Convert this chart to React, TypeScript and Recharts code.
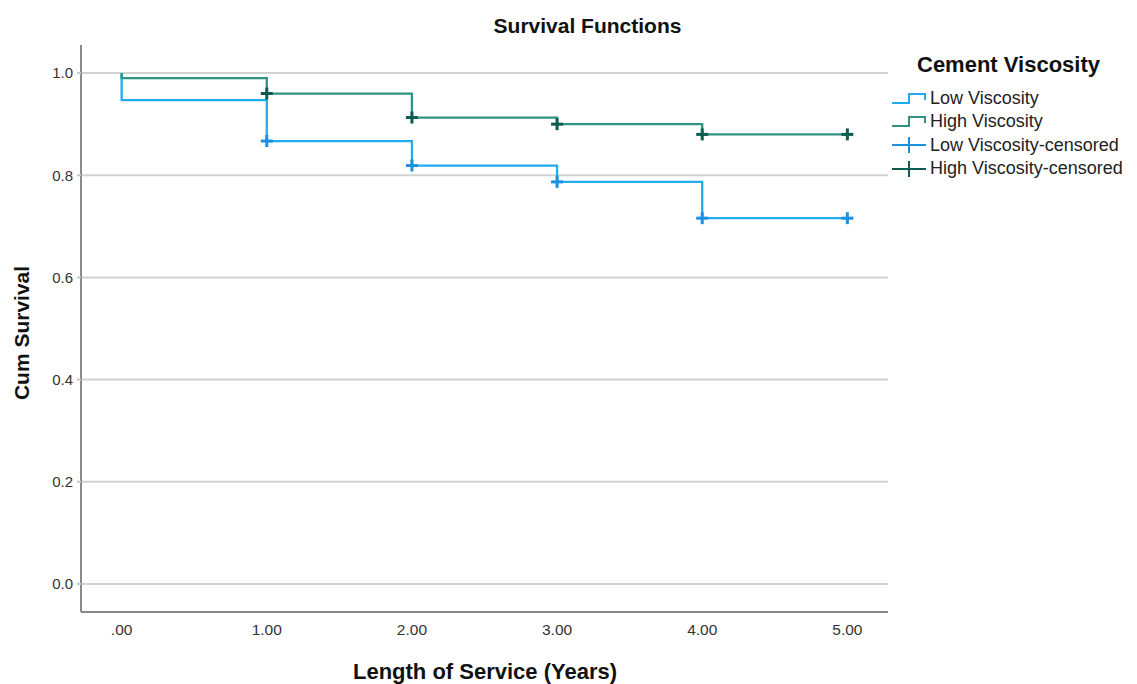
import { ComposedChart, Line, Scatter, XAxis, YAxis, CartesianGrid } from 'recharts';

const times = [0, 1, 2, 3, 4, 5];
const lowSurvival = [0.947, 0.867, 0.819, 0.787, 0.716, 0.716];
const highSurvival = [0.99, 0.96, 0.913, 0.9, 0.88, 0.88];
const censoredTimes = [1, 2, 3, 4, 5];
const yTicks = [0, 0.2, 0.4, 0.6, 0.8, 1.0];

const seriesNames = ['Low Viscosity', 'High Viscosity', 'Low Viscosity-censored', 'High Viscosity-censored'];

const colors = {
  low: '#22abef',
  high: '#2f9283',
  lowCens: '#1a90e2',
  highCens: '#0c5c51',
};

// step data starts at S=1 and drops immediately at t=0
const toSteps = (vals: number[]) => [{ t: 0, s: 1 }, ...times.map((t, i) => ({ t, s: vals[i] }))];
const toCensored = (vals: number[]) => censoredTimes.map(t => ({ t, s: vals[times.indexOf(t)] }));

const lowSteps = toSteps(lowSurvival);
const highSteps = toSteps(highSurvival);
const lowCens = toCensored(lowSurvival);
const highCens = toCensored(highSurvival);

const font = '"Liberation Sans", Arial, sans-serif';

function Cross(color: string) {
  return (props: any) => {
    const { cx, cy } = props;
    if (cx == null || cy == null) return <g />;
    return (
      <g stroke={color} strokeWidth={3}>
        <line x1={cx - 6} y1={cy} x2={cx + 6} y2={cy} />
        <line x1={cx} y1={cy - 6} x2={cx} y2={cy + 6} />
      </g>
    );
  };
}

function LegendIcon({ kind, color }: { kind: 'step' | 'cross'; color: string }) {
  return (
    <svg width={36} height={18} style={{ display: 'block' }}>
      {kind === 'step' ? (
        <polyline points="0,13 17,13 17,4 33,4 33,10" fill="none" stroke={color} strokeWidth={2} />
      ) : (
        <g stroke={color} strokeWidth={2}>
          <line x1={0} y1={9} x2={34} y2={9} />
          <line x1={17} y1={1} x2={17} y2={17} />
        </g>
      )}
    </svg>
  );
}

export default function App() {
  const legendItems = [
    { name: seriesNames[0], kind: 'step' as const, color: colors.low },
    { name: seriesNames[1], kind: 'step' as const, color: colors.high },
    { name: seriesNames[2], kind: 'cross' as const, color: colors.lowCens },
    { name: seriesNames[3], kind: 'cross' as const, color: colors.highCens },
  ];

  return (
    <div style={{ position: 'absolute', left: 0, top: 0, width: 1137, height: 684, background: '#fff', fontFamily: font }}>
      <ComposedChart width={1137} height={684} margin={{ top: 45, right: 249, bottom: 0, left: 0 }}>
        <CartesianGrid vertical={false} horizontalValues={yTicks} stroke="#d2d2d2" strokeWidth={2} />
        <XAxis
          type="number"
          dataKey="t"
          domain={[-0.28, 5.28]}
          ticks={times}
          allowDataOverflow
          tickFormatter={(v: number) => (v === 0 ? '.00' : v.toFixed(2))}
          height={72}
          tickLine={false}
          tickSize={0}
          tickMargin={12}
          stroke="#8a8a8a"
          strokeWidth={2}
          tick={{ fill: '#333', fontSize: 15.5, fontFamily: font }}
        />
        <YAxis
          type="number"
          dataKey="s"
          domain={[-0.055, 1.055]}
          ticks={yTicks}
          allowDataOverflow
          tickFormatter={(v: number) => v.toFixed(1)}
          width={81}
          tickSize={4}
          tickMargin={4}
          tickLine={{ stroke: '#c8c8c8' }}
          stroke="#8a8a8a"
          strokeWidth={2}
          tick={{ fill: '#333', fontSize: 15, fontFamily: font }}
        />
        <Line data={lowSteps} dataKey="s" type="stepAfter" stroke={colors.low} strokeWidth={2.3} dot={false} isAnimationActive={false} />
        <Line data={highSteps} dataKey="s" type="stepAfter" stroke={colors.high} strokeWidth={2.3} dot={false} isAnimationActive={false} />
        <Scatter data={lowCens} dataKey="s" shape={Cross(colors.lowCens)} isAnimationActive={false} />
        <Scatter data={highCens} dataKey="s" shape={Cross(colors.highCens)} isAnimationActive={false} />
      </ComposedChart>

      <div style={{ position: 'absolute', left: 0, top: 13, width: 1175, textAlign: 'center', fontSize: 21, fontWeight: 'bold', color: '#111', lineHeight: '26px' }}>
        Survival Functions
      </div>
      <div style={{ position: 'absolute', left: 0, top: 658, width: 970, textAlign: 'center', fontSize: 22, fontWeight: 'bold', color: '#111', lineHeight: '28px' }}>
        Length of Service (Years)
      </div>
      <div
        style={{
          position: 'absolute', left: 22, top: 333, transform: 'translate(-50%, -50%) rotate(-90deg)',
          whiteSpace: 'nowrap', fontSize: 21, fontWeight: 'bold', color: '#111',
        }}
      >
        Cum Survival
      </div>

      <div style={{ position: 'absolute', left: 892, top: 51 }}>
        <div style={{ marginLeft: 25, fontSize: 22, fontWeight: 'bold', color: '#111', marginBottom: 8, lineHeight: '28px' }}>Cement Viscosity</div>
        {legendItems.map(it => (
          <div key={it.name} style={{ display: 'flex', alignItems: 'center', height: 23.3 }}>
            <LegendIcon kind={it.kind} color={it.color} />
            <span style={{ fontSize: 18, color: '#222', marginLeft: 2 }}>{it.name}</span>
          </div>
        ))}
      </div>
    </div>
  );
}
